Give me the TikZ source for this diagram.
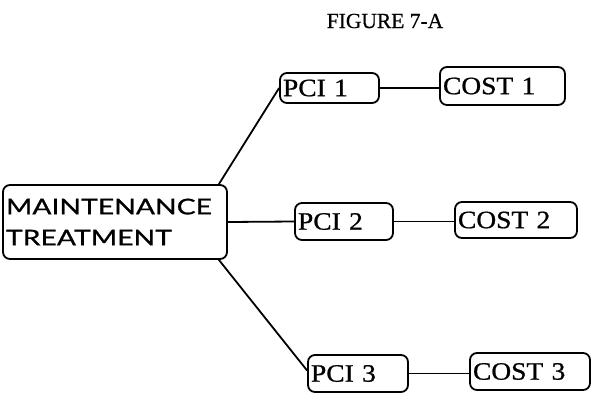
\documentclass[tikz,border=0pt]{standalone}
\usepackage{fontspec}
\setmainfont{Liberation Serif}[FakeBold=0.6]
\newfontfamily\boxfont{Liberation Serif}[FakeStretch=1.1,FakeBold=0.8]
\newfontfamily\headfont{Lato}[FakeStretch=1.3,FakeBold=0.8]
\begin{document}
\begin{tikzpicture}[x=1pt,y=-1pt,
  treebox/.style={draw, line width=1.8pt, rounded corners=7pt, inner xsep=3pt, inner ysep=0pt, align=left},
  small/.style={treebox, font=\boxfont\fontsize{25}{25}\selectfont},
  link/.style={line width=1.8pt}]
\useasboundingbox (0,0) rectangle (592,397);
\node[font=\fontsize{21.5}{22}\selectfont] (title) at (385,21) {FIGURE 7-A};
\node[treebox, text width=218pt, minimum height=74pt, font=\headfont\fontsize{21.8}{31}\selectfont] (mt) at (115,222) {MAINTENANCE\\TREATMENT};
\node[small, text width=93pt, minimum height=30pt] (pci1) at (329.5,88) {PCI 1};
\node[small, text width=119pt, minimum height=38pt] (cost1) at (502.5,86) {COST 1};
\node[small, text width=92pt, minimum height=37pt] (pci2) at (344,221.5) {PCI 2};
\node[small, text width=116pt, minimum height=36pt] (cost2) at (516,220) {COST 2};
\node[small, text width=94pt, minimum height=37pt] (pci3) at (358,373.5) {PCI 3};
\node[small, text width=114pt, minimum height=37pt] (cost3) at (530,371.5) {COST 3};
\draw[link] ([xshift=-9pt]mt.north east) -- (pci1.west);
\draw[link] (mt.east) -- (pci2.west);
\draw[link] ([xshift=-9pt]mt.south east) -- ([yshift=3pt]pci3.west);
\draw[link] (pci1.east) -- (pci1.east -| cost1.west);
\draw[link] (pci2.east) -- (pci2.east -| cost2.west);
\draw[link] (pci3.east) -- (pci3.east -| cost3.west);
\end{tikzpicture}
\end{document}
